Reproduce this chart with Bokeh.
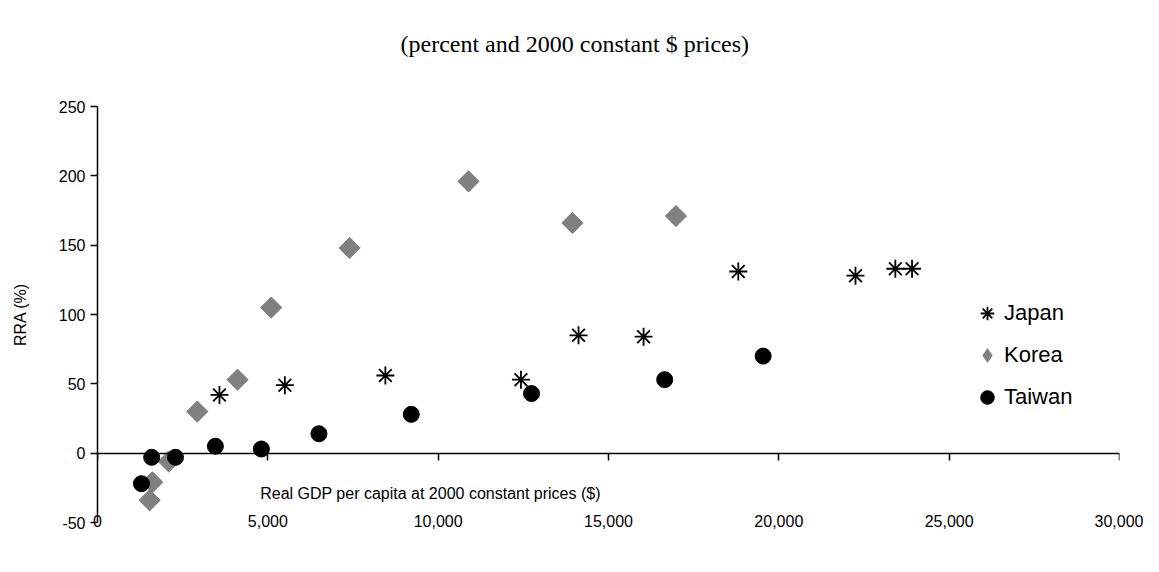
from bokeh.plotting import figure
from bokeh.models import (LinearAxis, FixedTicker, NumeralTickFormatter, Label,
                          Legend, LegendItem, Range1d, Title)
from bokeh.embed import file_html
from bokeh.resources import INLINE
import math

# ---- data ----
japan_gdp = [3580, 5500, 8450, 12430, 14120, 16030, 18810, 22250, 23420, 23910]
japan_rra = [42, 49, 56, 53, 85, 84, 131, 128, 133, 133]

korea_gdp = [1530, 1610, 2090, 2930, 4110, 5100, 7400, 10890, 13940, 16980]
korea_rra = [-34, -21, -6, 30, 53, 105, 148, 196, 166, 171]

taiwan_gdp = [1290, 1590, 2290, 3460, 4810, 6500, 9210, 12740, 16650, 19540]
taiwan_rra = [-22, -3, -3, 5, 3, 14, 28, 43, 53, 70]

x_ticks = [0, 5000, 10000, 15000, 20000, 25000, 30000]
y_ticks = [-50, 0, 50, 100, 150, 200, 250]

title_text = "(percent and 2000 constant $ prices)"
x_title = "Real GDP per capita at 2000 constant prices ($)"
y_title = "RRA (%)"

SANS = "Liberation Sans"
SERIF = "Liberation Serif"

W, H = 1143, 556
p = figure(width=W, height=H, output_backend="svg", toolbar_location=None,
           x_range=Range1d(0, 30000), y_range=Range1d(-50, 250),
           min_border_left=97, min_border_right=24, min_border_top=106,
           min_border_bottom=34, x_axis_location=None, y_axis_location=None)
p.outline_line_color = None
p.xgrid.visible = False
p.ygrid.visible = False
p.background_fill_color = "white"
p.border_fill_color = "white"

# main title (outermost) and a blank spacer title between it and the plot
p.title = Title(text=title_text, align="left", offset=303, standoff=0,
                text_font=SERIF, text_font_size="24px",
                text_font_style="normal", text_color="black")
p.add_layout(Title(text=" ", standoff=47, text_font_size="1px"), "above")

# y axis
yax = LinearAxis(ticker=FixedTicker(ticks=y_ticks),
                 formatter=NumeralTickFormatter(format="0"))
yax.axis_line_color = "black"
yax.axis_line_width = 1.5
yax.major_tick_line_color = "black"
yax.major_tick_line_width = 1.5
yax.major_tick_in = 0
yax.major_tick_out = 7
yax.minor_tick_line_color = None
yax.major_label_standoff = 5
yax.major_label_text_font = SANS
yax.major_label_text_font_size = "16px"
yax.major_label_text_color = "black"
yax.axis_label = y_title
yax.axis_label_text_font = SANS
yax.axis_label_text_font_size = "16px"
yax.axis_label_text_font_style = "normal"
yax.axis_label_text_color = "black"
yax.axis_label_standoff = 27
p.add_layout(yax, "left")

# x axis line at y = 0
xline = LinearAxis(ticker=FixedTicker(ticks=x_ticks), fixed_location=0)
xline.axis_line_color = "black"
xline.axis_line_width = 1.5
xline.major_tick_line_color = "black"
xline.major_tick_line_width = 1.5
xline.major_tick_in = 0
xline.major_tick_out = 7
xline.minor_tick_line_color = None
xline.major_label_text_alpha = 0
xline.major_label_text_font_size = "1px"
p.add_layout(xline, "below")

# x tick labels at the bottom
xlab = LinearAxis(ticker=FixedTicker(ticks=x_ticks),
                  formatter=NumeralTickFormatter(format="0,0"))
xlab.axis_line_color = None
xlab.major_tick_line_color = None
xlab.minor_tick_line_color = None
xlab.major_tick_in = 0
xlab.major_tick_out = 0
xlab.major_label_standoff = -8
xlab.major_label_text_font = SANS
xlab.major_label_text_font_size = "16px"
xlab.major_label_text_color = "black"
p.add_layout(xlab, "below")

# points
rj = p.scatter(japan_gdp, japan_rra, marker="asterisk", size=18,
               line_color="black", line_width=1.8)
# diamond glyph for the legend, hidden underneath the rotated squares
rk_leg = p.scatter(korea_gdp, korea_rra, marker="diamond", size=19,
                   fill_color="#808080", line_color="#808080")
rk = p.scatter(korea_gdp, korea_rra, marker="square", size=15, angle=math.pi / 4,
               fill_color="#808080", line_color="#808080")
rt = p.scatter(taiwan_gdp, taiwan_rra, marker="circle", size=16,
               fill_color="black", line_color="black")

legend = Legend(items=[LegendItem(label="Japan", renderers=[rj]),
                       LegendItem(label="Korea", renderers=[rk_leg]),
                       LegendItem(label="Taiwan", renderers=[rt])],
                location=(873, 108), orientation="vertical",
                glyph_width=34, glyph_height=34, spacing=8, label_standoff=0,
                padding=0, margin=0, border_line_color=None,
                background_fill_alpha=0,
                label_text_font=SANS, label_text_font_size="22px",
                label_text_color="black")
p.add_layout(legend, "center")

p.add_layout(Label(x=9775, y=-28.8, text=x_title, text_font=SANS,
                   text_font_size="16px", text_align="center",
                   text_baseline="middle", text_color="black"))

open("out.html", "w").write(file_html(p, INLINE))
